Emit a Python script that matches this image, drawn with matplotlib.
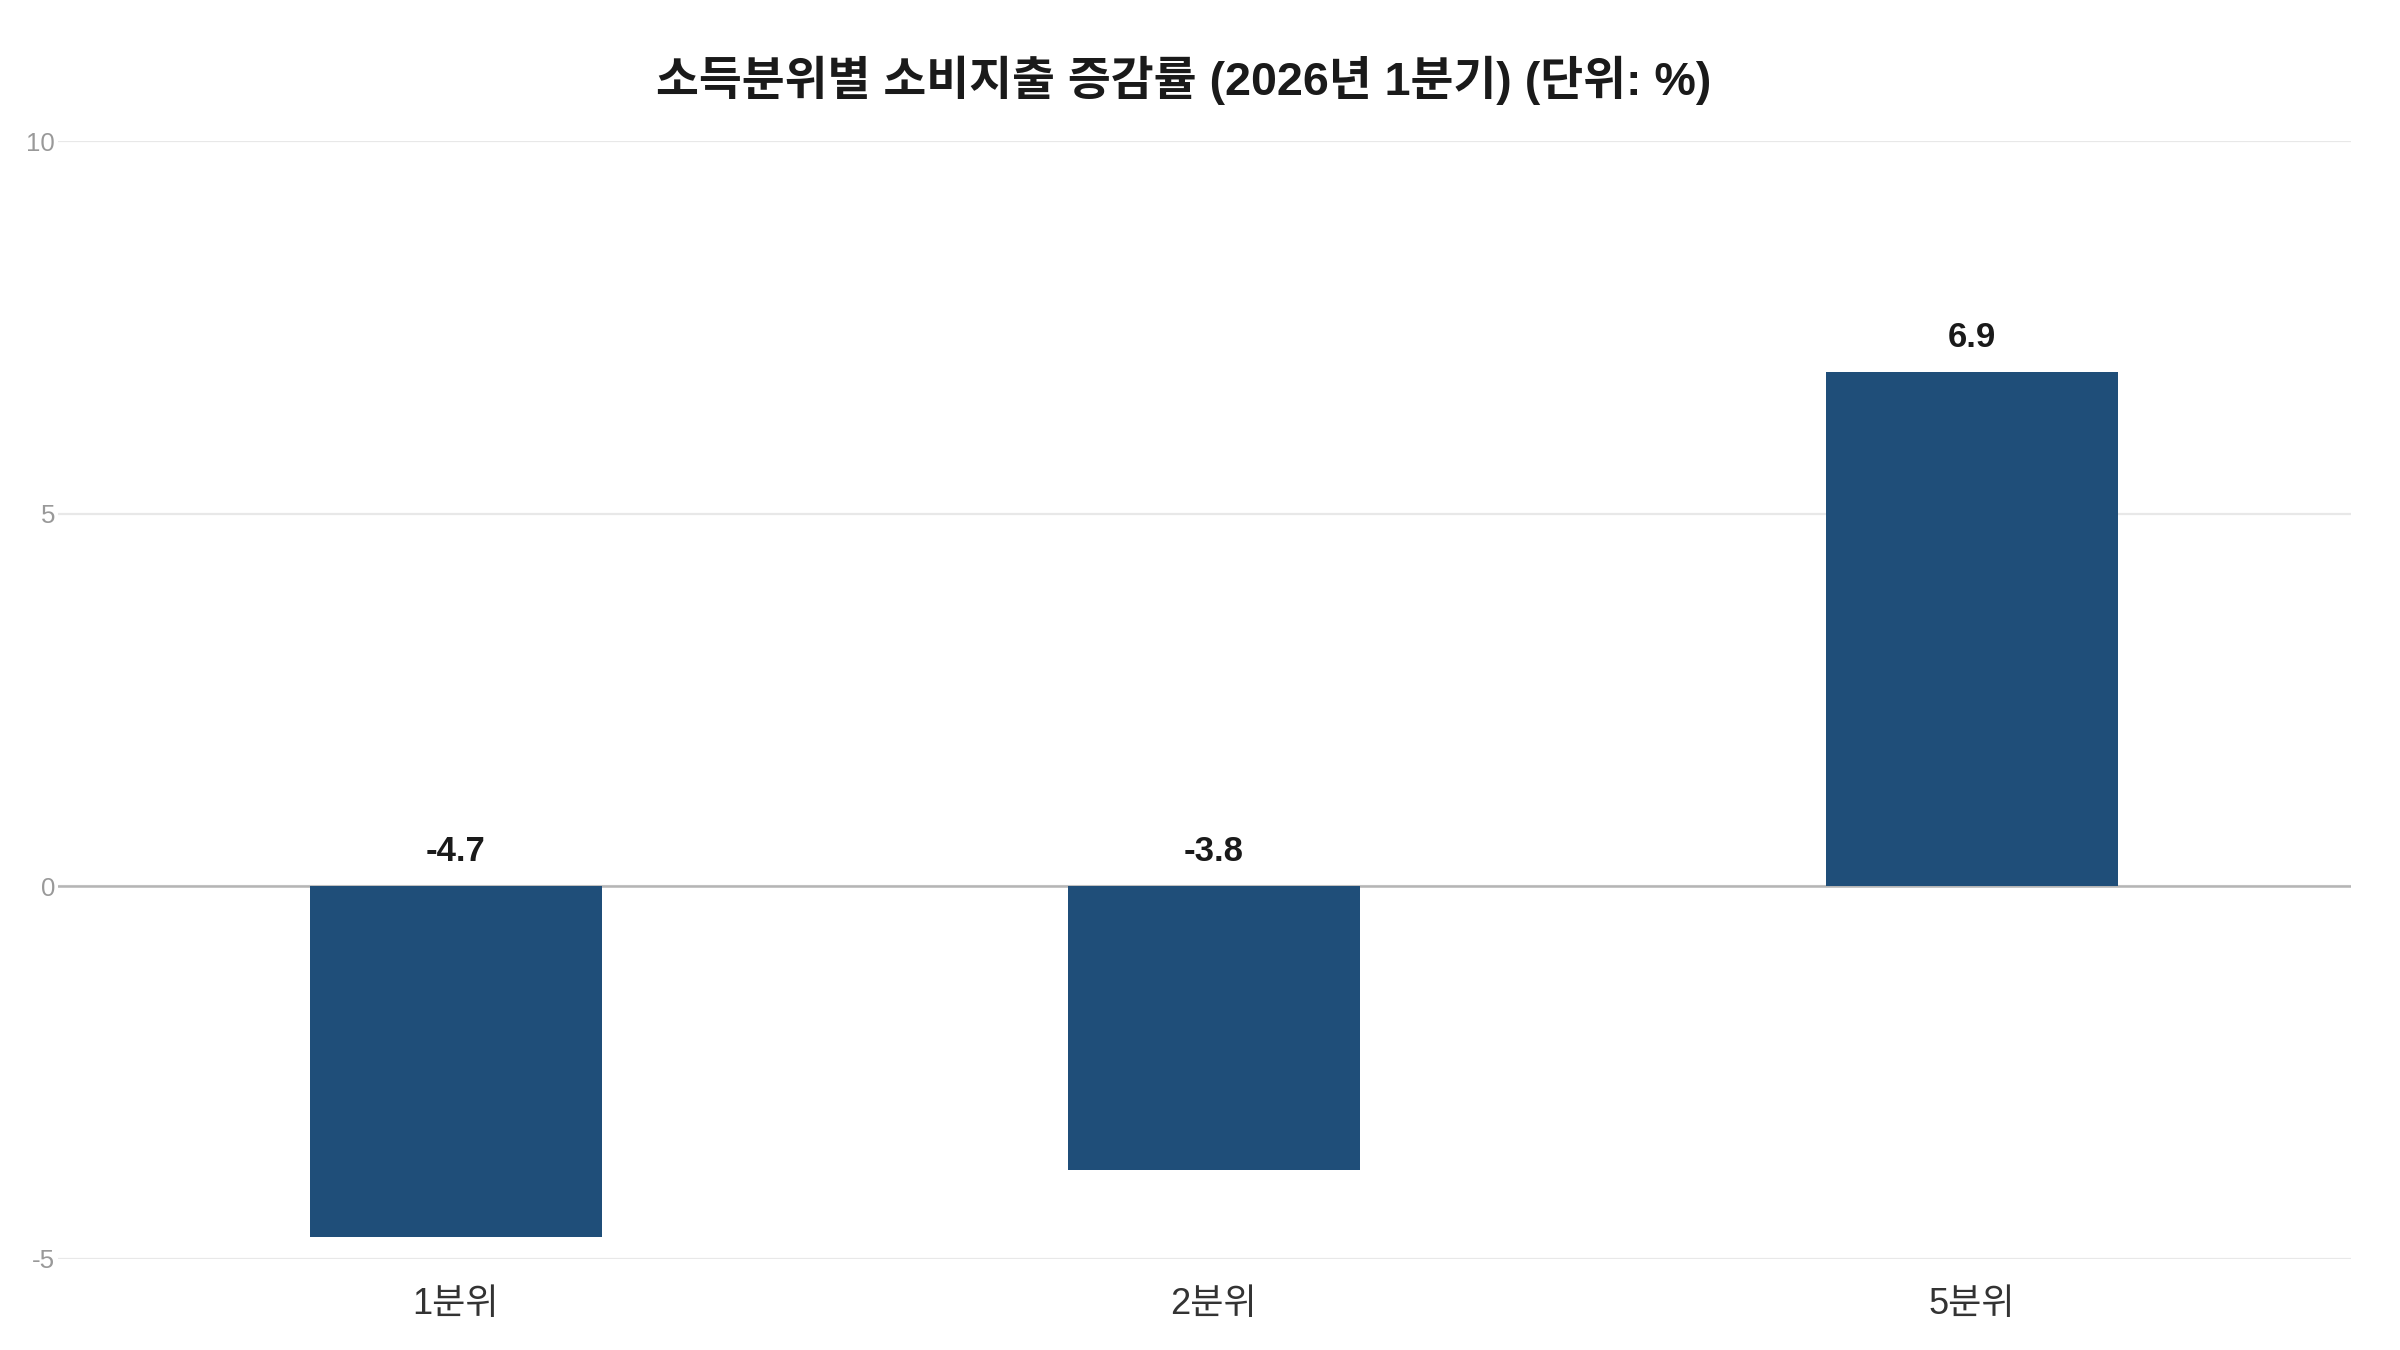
import matplotlib
matplotlib.use("Agg")
import matplotlib.pyplot as plt

plt.rcParams['font.family'] = ['Liberation Sans', 'Noto Sans CJK KR', 'DejaVu Sans']

categories = ["1분위", "2분위", "5분위"]
values = [-4.7, -3.8, 6.9]
yticks = [-5, 0, 5, 10]
title = "소득분위별 소비지출 증감률 (2026년 1분기) (단위: %)"

bar_color = "#1F4E79"

fig = plt.figure(figsize=(12, 6.75), dpi=200)
W, H = 2400, 1350
left, right, top, bottom = 58, 2351, 141, 1259
ax = fig.add_axes([left / W, 1 - bottom / H, (right - left) / W, (bottom - top) / H])

x = list(range(len(categories)))
ax.bar(x, values, width=0.385, color=bar_color, zorder=3)

for xi, v in zip(x, values):
    ax.annotate(f"{v:.1f}", xy=(xi, max(v, 0)), xytext=(0, 12.5), textcoords="offset points",
                ha="center", va="center", fontsize=12.5, fontweight="bold", color="#1a1a1a")

ax.set_ylim(-5, 10)
ax.set_xlim(-0.525, 2.5)
ax.set_yticks(yticks)
ax.set_yticklabels([str(t) for t in yticks])
ax.set_xticks(x)
ax.set_xticklabels(categories)

ax.tick_params(axis="y", length=0, pad=1, labelsize=9.3, labelcolor="#999999")
ax.tick_params(axis="x", length=0, pad=10, labelsize=13, labelcolor="#333333")

for s in ax.spines.values():
    s.set_visible(False)

ax.grid(axis="y", color="#e8e8e8", linewidth=0.8, zorder=0)
ax.axhline(0, color="#b5b5b5", linewidth=0.9, zorder=2)

fig.text(0.493, 1 - 80 / H, title, ha="center", va="center", fontsize=16.8, fontweight="bold", color="#1a1a1a")

fig.savefig("out.png", dpi=200, facecolor="white")
